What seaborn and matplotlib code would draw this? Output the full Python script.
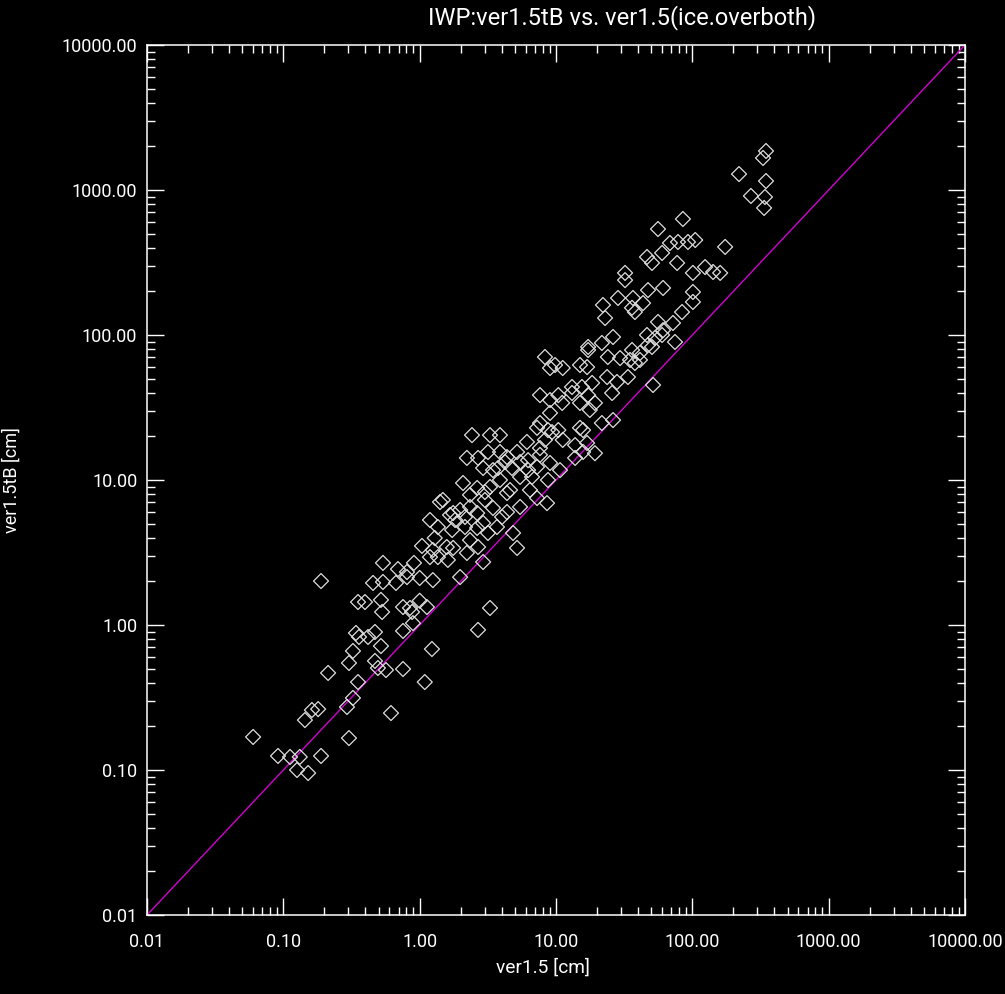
import numpy as np
import pandas as pd
import matplotlib
matplotlib.use("Agg")
import matplotlib.pyplot as plt
import matplotlib.ticker as mticker
import seaborn as sns

# ---- data ----
ver15 = [
    0.060, 0.0914, 0.112, 0.132, 0.126, 0.152, 0.189, 0.303, 0.144, 0.162,
    0.180, 0.293, 0.324, 0.616, 0.353, 0.213, 0.303, 0.324, 0.470, 0.494,
    0.566, 0.755, 1.09, 1.23, 0.520, 0.341, 0.359, 0.418, 0.470, 0.755,
    0.893, 0.530, 0.353, 0.397, 0.755, 1.13, 0.879, 0.849, 0.520, 1.00,
    3.28, 2.68,
    0.189, 0.455, 0.538, 0.670, 0.807, 1.00, 1.25, 1.98, 0.538, 0.693,
    0.807, 0.908, 1.04, 1.25, 1.58, 1.76, 2.22, 2.68, 1.19, 1.36,
    1.61, 2.92, 5.18,
    1.29, 1.19, 1.36, 1.41,
    7.63, 9.04, 10.4, 13.1, 15.5, 17.2, 15.0, 17.7, 9.04, 7.63,
    8.73, 10.4, 2.42, 3.28, 3.88, 6.12, 7.63, 11.2, 13.8, 15.8,
    16.9, 19.3, 2.22, 2.68, 3.17, 3.88, 4.37, 5.18, 6.24, 7.26,
    9.04, 10.7, 13.8, 15.8, 2.92, 3.76, 4.75, 5.45, 6.67, 8.73,
    2.08, 2.64, 3.28, 3.88, 4.60, 6.44, 7.26, 8.59, 5.45, 4.37,
    3.45, 2.64, 2.15, 1.48, 1.76, 2.92, 3.69, 4.84, 1.73, 2.64,
    3.17, 1.98, 4.37,
    25.8, 21.7, 26.2, 28.0, 51.5,
    46.5, 50.6, 60.0, 77.3, 68.5, 101, 101, 101, 32.1, 32.1,
    28.5, 36.7, 47.3, 61.0, 43.5, 36.1, 37.9, 22.1, 22.9, 84.0,
    56.0, 72.1, 46.5, 60.0, 74.6, 26.2, 21.7, 17.2, 17.2, 24.0,
    29.5, 36.1, 41.3, 47.3, 34.9, 37.9, 50.6, 8.30, 9.84, 11.2,
    9.04, 15.0, 16.9, 23.7, 33.7, 61.0,
    85.3, 56.0, 78.5, 92.9, 105, 174, 347, 330, 220, 347,
    269, 341, 336, 124, 142, 160,
    3.45, 4.23, 7.63, 8.30, 5.45, 3.01, 2.34, 6.24, 41.3, 53.2,
    1.82, 2.34,
    1.67, 2.34, 4.02, 2.15, 3.01, 7.26, 9.35, 15.0, 11.1, 18.4,
    19.3, 13.1,
]
ver15tB = [
    0.169, 0.125, 0.123, 0.123, 0.100, 0.0953, 0.125, 0.166, 0.221, 0.259,
    0.263, 0.272, 0.314, 0.247, 0.404, 0.467, 0.547, 0.662, 0.565, 0.505,
    0.489, 0.497, 0.404, 0.683, 0.716, 0.881, 0.827, 0.827, 0.895, 0.910,
    1.03, 1.23, 1.44, 1.44, 1.33, 1.33, 1.23, 1.31, 1.49, 1.47,
    1.31, 0.925,
    2.01, 1.95, 1.98, 1.95, 2.14, 2.11, 2.04, 2.14, 2.68, 2.43,
    2.32, 2.68, 3.51, 3.29, 3.45, 3.40, 3.14, 3.45, 2.94, 2.94,
    2.81, 2.72, 3.40,
    3.98, 5.30, 4.74, 7.05,
    38.5, 35.6, 38.5, 43.8, 43.8, 38.5, 34.0, 30.4, 29.0, 24.7,
    22.1, 22.1, 20.4, 20.4, 20.4, 18.3, 16.6, 18.9, 17.4, 22.1,
    18.0, 15.3, 14.2, 14.2, 15.6, 15.6, 14.4, 15.6, 13.7, 12.3,
    13.1, 11.7, 14.2, 15.6, 12.1, 12.1, 12.1, 10.5, 10.5, 10.0,
    9.53, 8.81, 8.95, 10.0, 8.53, 8.53, 7.51, 6.93, 6.52, 6.01,
    6.41, 5.92, 5.56, 7.28, 5.92, 5.05, 4.74, 4.31, 4.52, 4.67,
    4.31, 6.21, 8.13,
    39.8, 24.7, 25.9, 47.4, 45.2,
    345, 314, 368, 314, 431, 268, 198, 169, 268, 239,
    180, 180, 204, 211, 166, 154, 144, 161, 131, 144,
    123, 121, 100, 100, 89.5, 96.9, 88.1, 82.7, 78.8, 70.5,
    69.3, 78.8, 75.2, 85.3, 67.3, 64.1, 82.7, 70.5, 62.1, 59.2,
    59.2, 62.1, 60.1, 51.3, 51.3, 108,
    631, 538, 438, 438, 452, 405, 1858, 1663, 1288, 1153,
    910, 895, 752, 294, 272, 268,
    11.7, 13.3, 14.9, 18.9, 13.3, 7.28, 7.89, 11.7, 67.3, 95.3,
    5.30, 3.85,
    5.74, 6.52, 5.56, 4.74, 8.26, 22.9, 21.4, 22.9, 34.0, 46.7,
    34.0, 39.8,
]
one_to_one = [0.01, 10000.0]
tick_values = [0.01, 0.1, 1, 10, 100, 1000, 10000]
tick_labels = ["0.01", "0.10", "1.00", "10.00", "100.00", "1000.00", "10000.00"]

df = pd.DataFrame({"ver1.5": ver15, "ver1.5tB": ver15tB})

sns.set_style("dark")
plt.rcParams["font.family"] = ["Roboto", "DejaVu Sans"]

W, H = 1005, 994
fig = plt.figure(figsize=(W / 100, H / 100), dpi=100, facecolor="black")
ax = fig.add_axes([147 / W, 1 - 915 / H, (965 - 147) / W, (915 - 45) / H])
ax.set_facecolor("black")

ax.plot(one_to_one, one_to_one, color="#d000d0", lw=1.0, zorder=1)
sns.scatterplot(data=df, x="ver1.5", y="ver1.5tB", ax=ax, marker="D", s=58,
                fc="none", edgecolor="#dedede", linewidth=0.9, zorder=2)

ax.set_xscale("log")
ax.set_yscale("log")
ax.set_xlim(0.01, 10000)
ax.set_ylim(0.01, 10000)
ax.grid(False)

for axis in (ax.xaxis, ax.yaxis):
    axis.set_major_locator(mticker.FixedLocator(tick_values))
    axis.set_major_formatter(mticker.FixedFormatter(tick_labels))
    axis.set_minor_locator(mticker.LogLocator(base=10, subs=np.arange(2, 10)))
    axis.set_minor_formatter(mticker.NullFormatter())

ax.tick_params(which="both", direction="in", colors="white", top=True, right=True,
               bottom=True, left=True, width=1.0)
ax.tick_params(which="major", length=12.5)
ax.tick_params(which="minor", length=6)
ax.tick_params(axis="x", which="major", pad=13, labelsize=13, labelcolor="white")
ax.tick_params(axis="y", which="major", pad=7, labelsize=13, labelcolor="white")
for sp in ax.spines.values():
    sp.set_color("white")
    sp.set_linewidth(1.1)

ax.set_xlabel("")
ax.set_ylabel("")
fig.text(543 / W, 1 - 968 / H, "ver1.5 [cm]", color="white", fontsize=13.8,
         ha="center", va="center")
fig.text(21 / W, 1 - 480 / H, "ver1.5tB [cm]", color="white", fontsize=13,
         rotation=90, ha="right", va="center")
fig.text(622 / W, 1 - 18 / H, "IWP:ver1.5tB vs. ver1.5(ice.overboth)", color="white",
         fontsize=17, ha="center", va="center")

fig.savefig("out.png", dpi=100, facecolor="black")
